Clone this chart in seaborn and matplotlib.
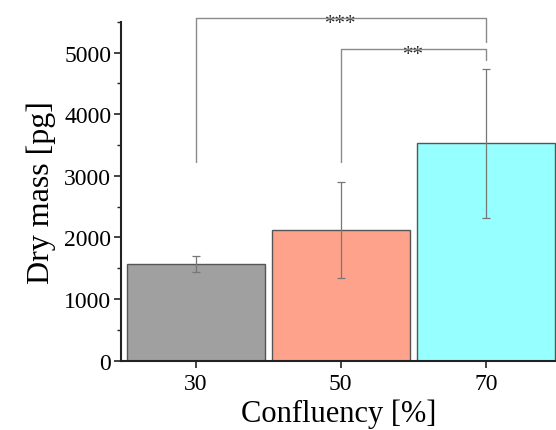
import matplotlib
matplotlib.use("Agg")
import matplotlib.pyplot as plt
import seaborn as sns
import pandas as pd
from matplotlib.ticker import MultipleLocator

categories = ["30", "50", "70"]
dry_mass = [1570, 2124, 3525]
errors = [130, 780, 1215]
colors = ["#A0A0A0", "#FFA28B", "#96FFFF"]

# significance brackets: (left idx, right idx, top value, left leg bottom, right leg bottom, label)
brackets = [
    (0, 2, 5556, 3217, 5172, "***"),
    (1, 2, 5065, 3217, 4875, "**"),
]

sns.set_style("ticks")
plt.rcParams["font.family"] = ["Liberation Serif", "DejaVu Serif"]
plt.rcParams["text.color"] = "black"
plt.rcParams["axes.labelcolor"] = "black"
plt.rcParams["xtick.color"] = "black"
plt.rcParams["ytick.color"] = "black"

fig = plt.figure(figsize=(5.56, 4.31), dpi=100)
ax = fig.add_axes([121 / 556, 69.3 / 431, 1 - 121 / 556, (361.7 - 22.7) / 431])

df = pd.DataFrame({"conf": categories, "mass": dry_mass})
sns.barplot(data=df, x="conf", y="mass", hue="conf", palette=colors,
            width=0.95, edgecolor="#555555", linewidth=1.0, errorbar=None,
            legend=False, ax=ax, saturation=1)

xs = list(range(len(categories)))
ax.errorbar(xs, dry_mass, yerr=errors, fmt="none", ecolor="#777777",
            elinewidth=0.9, capsize=3, capthick=0.9, zorder=5)

line_col = "#8a8a8a"
for i, j, top, lb, rb, lab in brackets:
    ax.plot([i, i, j, j], [lb, top, top, rb], color=line_col, lw=1.0,
            clip_on=False, zorder=6)
    ax.text((i + j) / 2, top - 90, lab, ha="center", va="center",
            fontsize=15, color="#222222", clip_on=False)

ax.set_ylim(0, 5500)
ax.set_xlim(-0.513, 2 + 70 / 145.25)
ax.yaxis.set_major_locator(MultipleLocator(1000))
ax.yaxis.set_minor_locator(MultipleLocator(500))

for s in ["top", "right"]:
    ax.spines[s].set_visible(False)
for s in ["left", "bottom"]:
    ax.spines[s].set_linewidth(1.5)
    ax.spines[s].set_color("#222222")

ax.tick_params(axis="y", which="major", length=5, width=1.2, labelsize=17,
               pad=2, color="#222222")
ax.tick_params(axis="y", which="minor", length=3, width=1.0, color="#222222")
ax.tick_params(axis="x", which="major", length=5, width=1.2, labelsize=17,
               pad=4, color="#222222")

ax.set_xlabel("Confluency [%]", fontsize=22, labelpad=3)
ax.set_ylabel("Dry mass [pg]", fontsize=23, labelpad=6)

fig.savefig("out.png", dpi=100)
